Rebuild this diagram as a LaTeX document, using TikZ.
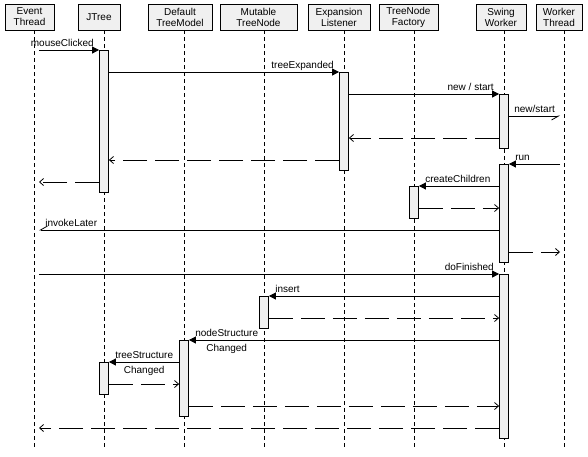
\documentclass[tikz,border=0pt]{standalone}
\usepackage{fontspec}
\setmainfont{Liberation Sans}
\usetikzlibrary{arrows.meta}
\definecolor{boxgray}{HTML}{F0F0F0}

\begin{document}
\begin{tikzpicture}[x=1pt,y=-1pt,line width=0.8pt,
	head/.style={draw,fill=boxgray,inner sep=0pt,minimum height=26pt,align=center,font=\fontsize{10}{11}\selectfont},
	life/.style={dash pattern=on 4pt off 3pt},
	act/.style={draw,fill=boxgray,inner sep=0pt,minimum width=9pt,anchor=north},
	call/.style={-{Triangle[length=7pt,width=7pt]}},
	ret/.style={dash pattern=on 24pt off 8pt,-{Straight Barb[length=4pt,width=7pt]}},
	async/.style={-{Straight Barb[harpoon,swap,length=7pt,width=8pt]}},
	msg/.style={font=\fontsize{10}{14.5}\selectfont,inner sep=0pt,align=center}]
	\useasboundingbox[fill=white] (0,0) rectangle (588,456);

	\node[head,minimum width=49pt] (et) at (29.5,17) {Event\\Thread};
	\node[head,minimum width=42pt] (jt) at (99,17) {JTree};
	\node[head,minimum width=64pt] (dtm) at (180,17) {Default\\TreeModel};
	\node[head,minimum width=77pt] (mtn) at (258.5,17) {Mutable\\TreeNode};
	\node[head,minimum width=62pt] (el) at (339,17) {Expansion\\Listener};
	\node[head,minimum width=59pt] (tnf) at (408.5,17) {TreeNode\\Factory};
	\node[head,minimum width=50pt] (sw) at (501,17) {Swing\\Worker};
	\node[head,minimum width=46pt] (wt) at (559,17) {Worker\\Thread};

	\foreach \n/\x in {et/34,jt/104,dtm/184,mtn/264,el/344,tnf/414,sw/504,wt/564}
		\draw[life] (\x,30) coordinate (\n l) -- ++(0,418);
	\coordinate (etx) at (39,0);
	\coordinate (wtx) at (560,0);
	\foreach \r/\y in {1/50,2/72,3/94,4/116,5/138,6/160,7/164,8/182,9/186,10/208,11/230,12/252,13/274,14/296,15/318,16/340,17/362,18/384,19/406,20/428}
		\coordinate (m\r) at (0,\y);

	\node[act,minimum height=142pt] (jt1) at (jtl |- m1) {};
	\node[act,minimum height=98pt] (el1) at (ell |- m2) {};
	\node[act,minimum height=54pt] (sw1) at (swl |- m3) {};
	\node[act,minimum height=98pt] (sw2) at (swl |- m7) {};
	\node[act,minimum height=32pt] (tnf1) at (tnfl |- m9) {};
	\node[act,minimum height=164pt] (sw3) at (swl |- m13) {};
	\node[act,minimum height=32pt] (mtn1) at (mtnl |- m14) {};
	\node[act,minimum height=76pt] (dtm1) at (dtml |- m16) {};
	\node[act,minimum height=32pt] (jt2) at (jtl |- m17) {};

	\draw[call] (etx |- m1) -- (jt1.west |- m1) node[msg,pos=1,anchor=base east,xshift=-5pt,yshift=3.5pt] {mouseClicked};
	\draw[call] (jt1.east |- m2) -- (el1.west |- m2) node[msg,pos=1,anchor=base east,xshift=-5pt,yshift=3.5pt] {treeExpanded};
	\draw[call] (el1.east |- m3) -- (sw1.west |- m3) node[msg,pos=1,anchor=base east,xshift=-5pt,yshift=3.5pt] {new / start};
	\draw[async] (sw1.east |- m4) -- (wtx |- m4) node[msg,pos=0,anchor=base west,xshift=5pt,yshift=3.5pt] {new/start};
	\draw[ret] (sw1.west |- m5) -- (el1.east |- m5);
	\draw[ret] (el1.west |- m6) -- (jt1.east |- m6);
	\draw[call] (wtx |- m7) -- (sw2.east |- m7) node[msg,pos=1,anchor=base west,xshift=6pt,yshift=3.5pt] {run};
	\draw[ret] (jt1.west |- m8) -- (etx |- m8);
	\draw[call] (sw2.west |- m9) -- (tnf1.east |- m9) node[msg,pos=1,anchor=base west,xshift=6pt,yshift=3.5pt] {createChildren};
	\draw[ret] (tnf1.east |- m10) -- (sw2.west |- m10);
	\draw[async] (sw2.west |- m11) -- (etx |- m11) node[msg,pos=1,anchor=base west,xshift=6pt,yshift=3.5pt] {invokeLater};
	\draw[ret] (sw2.east |- m12) -- (wtx |- m12);
	\draw[call] (etx |- m13) -- (sw3.west |- m13) node[msg,pos=1,anchor=base east,xshift=-5pt,yshift=3.5pt] {doFinished};
	\draw[call] (sw3.west |- m14) -- (mtn1.east |- m14) node[msg,pos=1,anchor=base west,xshift=6pt,yshift=3.5pt] {insert};
	\draw[ret] (mtn1.east |- m15) -- (sw3.west |- m15);
	\draw[call] (sw3.west |- m16) -- (dtm1.east |- m16) node[msg,pos=1,anchor=base west,xshift=6pt,yshift=-11pt] {nodeStructure\\Changed};
	\draw[call] (dtm1.west |- m17) -- (jt2.east |- m17) node[msg,pos=1,anchor=base west,xshift=6pt,yshift=-11pt] {treeStructure\\Changed};
	\draw[ret] (jt2.east |- m18) -- (dtm1.west |- m18);
	\draw[ret] (dtm1.east |- m19) -- (sw3.west |- m19);
	\draw[ret] (sw3.west |- m20) -- (etx |- m20);
\end{tikzpicture}
\end{document}
